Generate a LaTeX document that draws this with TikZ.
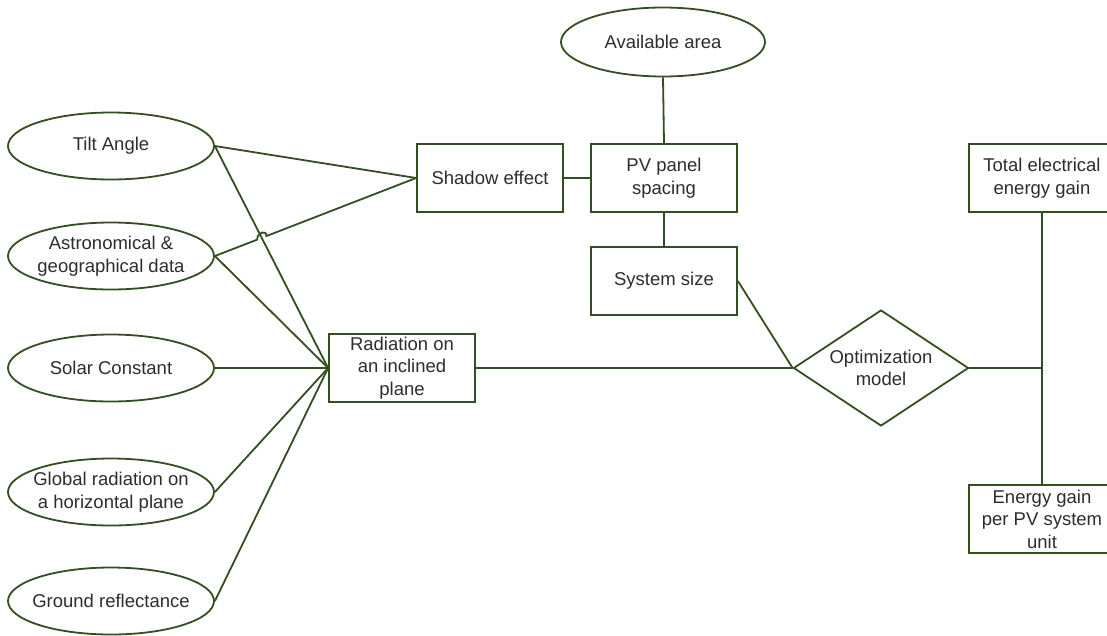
\documentclass[tikz,border=0pt]{standalone}
\usepackage{fontspec}
\setmainfont{Liberation Sans}
\usetikzlibrary{shapes.geometric,calc}
\definecolor{edgegreen}{RGB}{52,78,34}
\definecolor{labelgray}{RGB}{45,45,45}
\tikzset{
  base/.style={draw=edgegreen, line width=1.8pt, text=labelgray, align=center,
    font=\fontsize{18.5}{22.5}\selectfont, inner sep=0pt},
  oval/.style={base, ellipse, inner xsep=-16pt, inner ysep=-6pt,
    minimum width=206pt, minimum height=67pt},
  blockbox/.style={base, rectangle, minimum width=146pt, minimum height=68pt},
  decide/.style={base, diamond, aspect=1.5, minimum width=175pt, minimum height=116pt},
  link/.style={draw=edgegreen, line width=1.8pt},
}
\begin{document}
\begin{tikzpicture}[x=1pt,y=-1pt]
  \useasboundingbox (0,0) rectangle (1107,635);
  \fill[white] (0,0) rectangle (1107,635);
  \clip (0,0) rectangle (1107,635);

  % input ellipses on the left
  \node[oval] (tilt)   at (111,146) {Tilt Angle};
  \node[oval] (astro)  at (111,256) {Astronomical \&\\geographical data};
  \node[oval] (solar)  at (111,368) {Solar Constant};
  \node[oval] (global) at (111,492) {Global radiation on\\a horizontal plane};
  \node[oval] (ground) at (111,601) {Ground reflectance};

  % middle blocks
  \node[blockbox] (rad) at (402,368) {Radiation on\\an inclined\\plane};
  \node[blockbox] (shadow) at (490,178) {Shadow effect};
  \node[blockbox] (spacing) at (664,178) {PV panel\\spacing};
  \node[blockbox] (size) at (664,281) {System size};
  \node[oval, minimum width=204pt, minimum height=69pt] (area) at (663,42) {Available area};

  % optimisation and outputs
  \node[decide] (opt) at (881,368) {Optimization\\model};
  \node[blockbox] (total) at (1042,178) {Total electrical\\energy gain};
  \node[blockbox] (unitgain) at (1042,519) {Energy gain\\per PV system\\unit};
  \coordinate (junction) at (unitgain.north |- opt.east);

  % connectors into the radiation block
  \draw[link] (tilt.east) -- (rad.west);
  \draw[link] (astro.east) -- (rad.west);
  \draw[link] (solar.east) -- (rad.west);
  \draw[link] (global.east) -- (rad.west);
  \draw[link] (ground.east) -- (rad.west);

  % connectors into the shadow block, with a hop over the crossing line
  \draw[link] (tilt.east) -- (shadow.west);
  \coordinate (cross) at (intersection of tilt.east--rad.west and astro.east--shadow.west);
  \coordinate (hopA) at ($(cross)!5pt!(astro.east)$);
  \coordinate (hopB) at ($(cross)!5pt!(shadow.west)$);
  \draw[link] (astro.east) -- (hopA)
     .. controls ($(hopA)+(0,-7)$) and ($(hopB)+(0,-7)$) .. (hopB) -- (shadow.west);

  % spacing chain
  \draw[link] (shadow.east) -- (spacing.west);
  \draw[link] (area.south) -- (spacing.north);
  \draw[link] (spacing.south) -- (size.north);
  \draw[link] (size.east) -- (opt.west);
  \draw[link] (rad.east) -- (opt.west);

  % outputs
  \draw[link] (opt.east) -- (junction);
  \draw[link] (total.south) -- (unitgain.north);
\end{tikzpicture}
\end{document}
